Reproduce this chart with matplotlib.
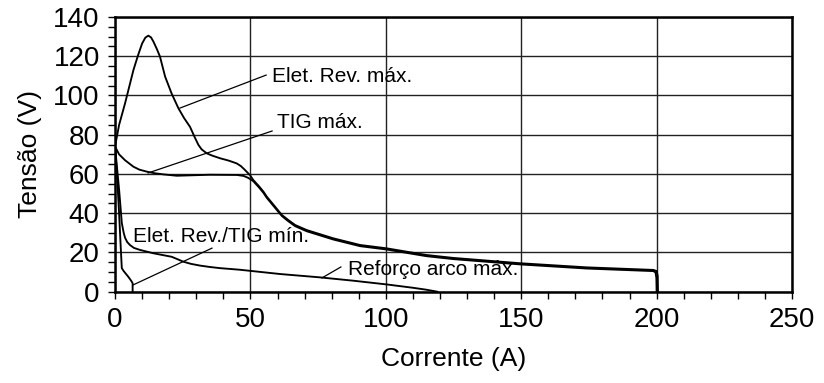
import matplotlib
matplotlib.use("Agg")
import matplotlib.pyplot as plt
from matplotlib.ticker import MultipleLocator

plt.rcParams['font.family'] = ['Liberation Sans', 'DejaVu Sans']

# Elet. Rev. máx.
elet_max_x = [0, 1.5, 3.7, 6.8, 8.5, 10, 11.2, 12.3, 13.3, 14.2, 15.5, 16.6, 18.5, 20.9, 23.4,
              25.5, 27.7, 29.5, 30.8, 32, 33.9, 36, 38.8, 42, 44.9, 46.5, 48, 49.9, 51, 53,
              54.8, 56, 59, 61.6, 63, 64, 66.5, 70.8, 75, 80.6, 90.5, 100.3,
              115, 125, 149.6, 174.2, 198.8, 200, 200.4, 200.5]
elet_max_y = [74, 85, 96, 113, 120.5, 126.5, 129.5, 130.5, 129.6, 127.4, 123.5, 119.8, 109.6, 101, 93.5,
              88.5, 84, 78.5, 74.8, 72.5, 70.5, 69.3, 68, 66.8, 65.4, 64, 62, 59.3, 57, 54,
              51, 48.5, 43.5, 39.1, 37.6, 36.5, 34, 31.4, 29.6, 27.2, 23.8, 22.1,
              18.7, 17.2, 14.5, 12.4, 11.1, 10.5, 8, 0]

# TIG máx.
tig_max_x = [0, 1.5, 3.7, 6.8, 9, 11.7, 14.5, 17.8, 22.8, 35, 45, 47.5, 49.2, 51, 53, 54.8, 56,
             59, 61.6, 63, 64, 66.5, 70.8, 75, 80.6, 90.5, 100.3, 115, 125, 149.6, 174.2,
             198.8, 199.6, 199.9, 200]
tig_max_y = [74, 70, 67, 63.7, 62.2, 61.2, 60.4, 59.8, 59.1, 59.6, 59.5, 59.0, 58, 56.4, 53.4, 50.4, 47.9,
             42.9, 38.6, 37.0, 35.9, 33.4, 30.8, 29.0, 26.6, 23.2, 21.5, 18.1, 16.6, 13.9, 11.8,
             10.5, 9.8, 7, 0]

# Elet. Rev./TIG mín.
min_x = [0, 0.8, 1.5, 2.2, 2.5, 3.2, 4.9, 6.0, 6.5, 6.5]
min_y = [74, 58, 40, 20, 12, 10.5, 7.6, 5.5, 4.3, 0]

# Reforço arco máx.
ref_x = [0, 1.5, 2.5, 3.2, 3.7, 4.5, 5.5, 7, 9.2, 14.1, 20.9, 23, 25.2, 28, 31.4, 35, 38.8, 46,
         61, 75.7, 88, 100.3, 110, 115, 119]
ref_y = [74, 52, 35, 30, 27.5, 25.3, 23.8, 22.3, 21.3, 19.6, 17.8, 16.6, 15.3, 14.2, 13.3, 12.6, 12, 11.2,
         9, 7.3, 5.6, 3.7, 2.0, 1.0, 0]

# annotations: label, text position, leader start, leader end
ann_labels = ["Elet. Rev. máx.", "TIG máx.", "Elet. Rev./TIG mín.", "Reforço arco máx."]
ann_text_xy = [(58.1, 106.9), (59.7, 83.3), (6.8, 25.2), (86.2, 8.7)]
ann_line_from = [(55.8, 110.4), (58.0, 81.9), (35.8, 22.2), (83.4, 12.6)]
ann_line_to = [(24.0, 93.6), (12.2, 60.5), (6.6, 3.4), (76.4, 7.0)]

fig = plt.figure(figsize=(8.24, 3.83), dpi=100)
ax = fig.add_axes([0.1396, 0.2384, 0.8216, 0.7172])

ax.set_xlim(0, 250)
ax.set_ylim(0, 140)
ax.xaxis.set_major_locator(MultipleLocator(50))
ax.xaxis.set_minor_locator(MultipleLocator(10))
ax.yaxis.set_major_locator(MultipleLocator(20))
ax.yaxis.set_minor_locator(MultipleLocator(5))

ax.grid(True, which='major', color='#222222', linewidth=1.0)
ax.set_axisbelow(True)

for s in ax.spines.values():
    s.set_linewidth(1.8)
    s.set_color('black')

ax.tick_params(which='both', direction='out', length=5, width=1.0, color='black')
ax.tick_params(which='major', labelsize=20, pad=6)

lc = 'black'
lw = 1.35
ax.plot(elet_max_x, elet_max_y, color=lc, lw=lw, solid_joinstyle='round')
ax.plot(tig_max_x, tig_max_y, color=lc, lw=lw, solid_joinstyle='round')
ax.plot(min_x, min_y, color=lc, lw=lw, solid_joinstyle='round')
ax.plot(ref_x, ref_y, color=lc, lw=lw, solid_joinstyle='round')

for lab, txy, p0, p1 in zip(ann_labels, ann_text_xy, ann_line_from, ann_line_to):
    ax.plot([p0[0], p1[0]], [p0[1], p1[1]], color='black', lw=0.9)
    ax.text(txy[0], txy[1], lab, fontsize=15, ha='left', va='baseline', color='black')

ax.set_xlabel("Corrente (A)", fontsize=19, labelpad=10)
ax.set_ylabel("Tensão (V)", fontsize=19, labelpad=8)

fig.savefig("out.png", dpi=100)
